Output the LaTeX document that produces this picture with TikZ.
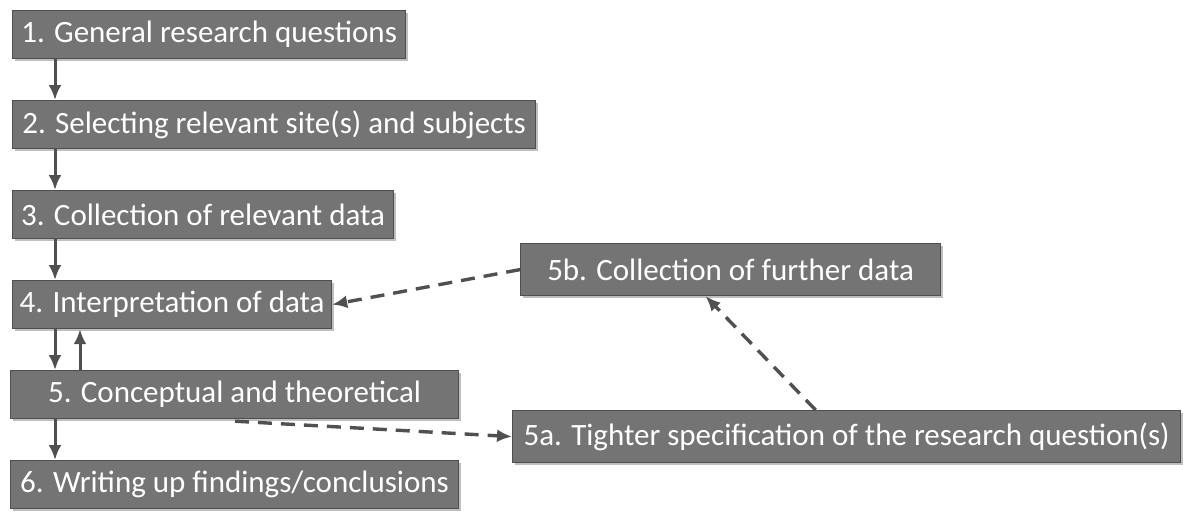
\documentclass[tikz,border=0pt]{standalone}
\usepackage{fontspec}
\setmainfont{Carlito}
\usetikzlibrary{arrows.meta,shadows,calc}
\definecolor{boxfill}{HTML}{747474}
\definecolor{boxline}{HTML}{4F4F4F}
\definecolor{arrowcol}{HTML}{505050}
\tikzset{
  stage/.style={draw=boxline, line width=1.2pt, fill=boxfill, text=white,
    font=\fontsize{31}{34}\selectfont, inner sep=2pt, anchor=north west,
    minimum height=48pt,
    drop shadow={shadow xshift=2pt, shadow yshift=-2pt, fill=black, opacity=0.25}},
  solidarrow/.style={draw=arrowcol, line width=3pt, -{Latex[length=15pt,width=13pt]}},
  dasharrow/.style={draw=arrowcol, line width=3.4pt, dash pattern=on 14pt off 9pt, -{Latex[length=15pt,width=13pt]}}
}
\begin{document}
\begin{tikzpicture}[x=1pt,y=-1pt]
\useasboundingbox (0,0) rectangle (1183,512);
\node[stage, minimum width=393pt] (n1) at (12,10) {1. General research questions};
\node[stage, minimum width=523pt] (n2) at (12,100) {2. Selecting relevant site(s) and subjects};
\node[stage, minimum width=381pt] (n3) at (12,190) {3. Collection of relevant data};
\node[stage, minimum width=319pt] (n4) at (12,280) {4. Interpretation of data};
\node[stage, minimum width=448pt] (n5) at (10,370) {5. Conceptual and theoretical};
\node[stage, minimum width=448pt] (n6) at (10,460) {6. Writing up findings/conclusions};
\node[stage, minimum width=420pt, minimum height=52pt] (n5b) at (520,243) {5b. Collection of further data};
\node[stage, minimum width=668pt, minimum height=52pt] (n5a) at (512,410) {5a. Tighter specification of the research question(s)};

\draw[solidarrow] ($(n1.south west)+(43,0)$) -- ($(n2.north west)+(43,0)$);
\draw[solidarrow] ($(n2.south west)+(43,0)$) -- ($(n3.north west)+(43,0)$);
\draw[solidarrow] ($(n3.south west)+(43,0)$) -- ($(n4.north west)+(43,0)$);
\draw[solidarrow] ($(n4.south west)+(43,0)$) -- ($(n5.north west)+(45,0)$);
\draw[solidarrow] ($(n5.north west)+(70,0)$) -- ($(n4.south west)+(68,0)$);
\draw[solidarrow] ($(n5.south west)+(45,0)$) -- ($(n6.north west)+(45,0)$);

\draw[dasharrow] (n5b.west) -- (n4.east);
\draw[dasharrow] ($(n5a.north)+(-31,0)$) -- ($(n5b.south)+(-25,0)$);
\draw[dasharrow] ($(n5.south west)+(225,2)$) -- (n5a.west);
\end{tikzpicture}
\end{document}
